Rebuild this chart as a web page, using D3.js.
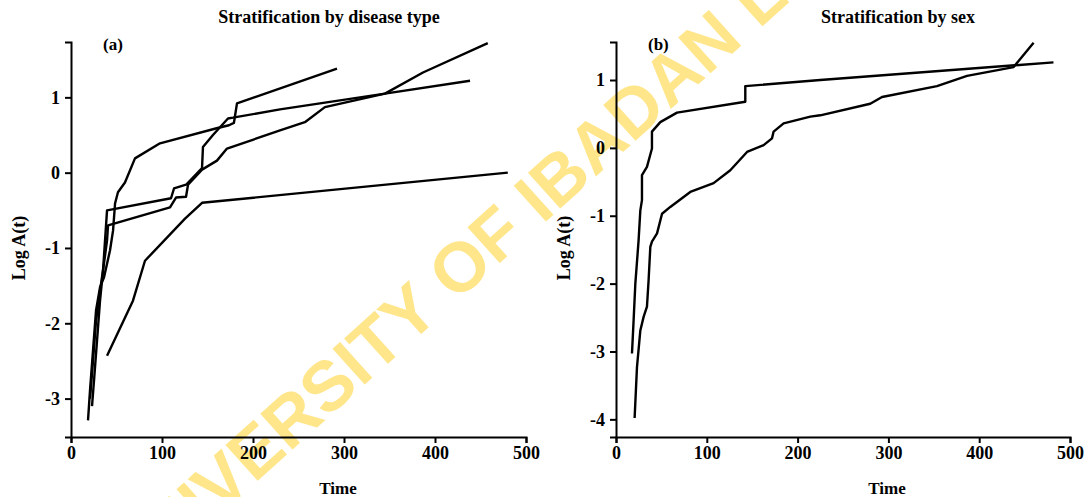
<!DOCTYPE html>
<html>
<head>
<meta charset="utf-8">
<script src="https://cdn.jsdelivr.net/npm/d3@7"></script>
<style>
  body { margin: 0; background: #fff; }
  svg { display: block; }
  text { font-family: "Liberation Serif", "Times New Roman", serif; }
</style>
</head>
<body>
<div id="chart"></div>
<script>
// panel (a): stratification by disease type, [time, log A(t)]
const disease1 = [[18.7,-3.29],[20.9,-2.89],[24.2,-2.36],[27.5,-1.83],[31.9,-1.52],[36.3,-1.39],[42.9,-1.03],[46.2,-0.77],[48.4,-0.41],[51.6,-0.26],[59.3,-0.13],[70.3,0.19],[97.8,0.39],[160,0.59],[173.6,0.63],[179,0.66],[182.4,0.92],[292.3,1.38]];
const disease2 = [[23.1,-3.1],[25.3,-2.76],[28.6,-2.23],[31.9,-1.7],[35.2,-1.3],[37.4,-0.9],[39.6,-0.5],[109.9,-0.34],[113.2,-0.21],[126.4,-0.16],[144,0.06],[145,0.34],[156,0.5],[172.5,0.72],[178,0.73],[229.7,0.84],[345,1.05],[438.5,1.22]];
const disease3 = [[20.9,-3.0],[24.2,-2.5],[27.5,-1.97],[31.9,-1.57],[36.3,-1.2],[39.6,-0.9],[40.7,-0.7],[108.8,-0.46],[115.4,-0.33],[126.4,-0.32],[128.6,-0.16],[144,0.04],[160.4,0.16],[171.4,0.32],[229.7,0.56],[257,0.67],[279,0.87],[345,1.05],[386.8,1.33],[458,1.72]];
const disease4 = [[39.6,-2.43],[68.1,-1.7],[81.3,-1.17],[125.3,-0.61],[144,-0.4],[480,0.0]];

// panel (b): stratification by sex, [time, log A(t)]
const sex1 = [[17.6,-3.03],[19.4,-2.54],[21.3,-2.0],[24.9,-1.36],[26.8,-0.92],[28.6,-0.77],[28.6,-0.4],[34.1,-0.28],[39.6,-0.01],[39.6,0.24],[48.8,0.38],[67.2,0.52],[142.4,0.68],[142.4,0.91],[225,1.0],[481.8,1.26]];
const sex2 = [[20.5,-3.98],[23.1,-3.23],[26.8,-2.69],[30.4,-2.49],[34.1,-2.34],[35.9,-1.95],[37.8,-1.46],[39.6,-1.38],[45.2,-1.26],[50.7,-0.97],[59.8,-0.87],[81.8,-0.65],[107.5,-0.52],[125.9,-0.33],[144.3,-0.06],[162.6,0.04],[171.8,0.14],[173.6,0.24],[184.6,0.36],[214,0.46],[225,0.48],[280,0.65],[293,0.75],[353.5,0.91],[386.6,1.06],[437.9,1.19],[459.9,1.55]];

const xTicks = [0, 100, 200, 300, 400, 500];
const yTicksA = [-3, -2, -1, 0, 1];
const yTicksB = [-4, -3, -2, -1, 0, 1];

const width = 1091, height = 497;

const svg = d3.select("#chart")
  .append("svg")
  .attr("width", width)
  .attr("height", height)
  .attr("viewBox", [0, 0, width, height]);

// watermark behind the plot
svg.append("text")
  .attr("transform", "translate(130,596) rotate(-42)")
  .attr("font-weight", "bold")
  .attr("font-size", 70)
  .attr("fill", "#ffe277")
  .attr("opacity", 0.85)
  .style("font-family", "'Liberation Sans', Arial, sans-serif")
  .text("UNIVERSITY OF IBADAN LIBRARY");

const panels = [
  { series: [disease1, disease2, disease3, disease4], yDomain: [-3.51, 1.735], yTicks: yTicksA,
    left: 71, right: 526, title: "Stratification by disease type", tag: "(a)", titleX: 329, timeX: 338 },
  { series: [sex1, sex2], yDomain: [-4.26, 1.56], yTicks: yTicksB,
    left: 616, right: 1070, title: "Stratification by sex", tag: "(b)", titleX: 898, timeX: 887 }
];

const plotTop = 42, plotBottom = 437;

for (let p of panels) {
  let x = d3.scaleLinear().domain([0, 500]).range([p.left, p.right]);
  let y = d3.scaleLinear().domain(p.yDomain).range([plotBottom, plotTop]);

  let g = svg.append("g");

  g.append("g")
    .attr("transform", `translate(0,${plotBottom})`)
    .call(d3.axisBottom(x).tickValues(xTicks).tickFormat(d => String(d)).tickSizeOuter(0).tickSize(6).tickPadding(3))
    .call(a => a.selectAll("text").attr("font-size", 18).attr("font-weight", "bold").attr("fill", "#000").style("font-family", "'Liberation Serif', serif"))
    .call(a => a.selectAll("path,line").attr("stroke", "#000").attr("stroke-width", 2));

  g.append("g")
    .attr("transform", `translate(${p.left},0)`)
    .call(d3.axisLeft(y).tickValues(p.yTicks).tickFormat(d => String(d)).tickSizeOuter(0).tickSize(6).tickPadding(5))
    .call(a => a.selectAll("text").attr("font-size", 18).attr("font-weight", "bold").attr("fill", "#000").style("font-family", "'Liberation Serif', serif"))
    .call(a => a.selectAll("path,line").attr("stroke", "#000").attr("stroke-width", 2));

  let line = d3.line()
    .x(d => x(d[0]))
    .y(d => y(d[1]));

  g.selectAll("path.curve")
    .data(p.series)
    .join("path")
    .attr("class", "curve")
    .attr("fill", "none")
    .attr("stroke", "#000")
    .attr("stroke-width", 2.4)
    .attr("stroke-linejoin", "round")
    .attr("d", line);

  g.append("text")
    .attr("x", p.titleX)
    .attr("y", 23)
    .attr("text-anchor", "middle")
    .attr("font-size", 18)
    .attr("font-weight", "bold")
    .text(p.title);

  g.append("text")
    .attr("x", p.left + 32)
    .attr("y", 50)
    .attr("font-size", 17)
    .attr("font-weight", "bold")
    .text(p.tag);

  g.append("text")
    .attr("x", p.timeX)
    .attr("y", 494)
    .attr("text-anchor", "middle")
    .attr("font-size", 17)
    .attr("font-weight", "bold")
    .text("Time");

  g.append("text")
    .attr("transform", `translate(${p.left - 46},248) rotate(-90)`)
    .attr("text-anchor", "middle")
    .attr("font-size", 18)
    .attr("font-weight", "bold")
    .text("Log A(t)");
}
</script>
</body>
</html>
